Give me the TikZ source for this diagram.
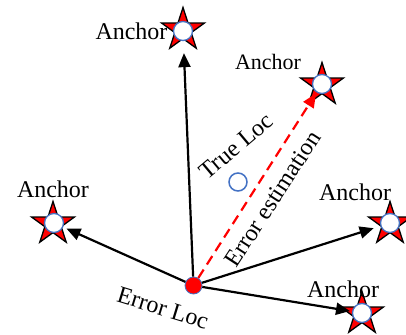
\documentclass[tikz,border=0pt]{standalone}
\usepackage{fontspec}
\setmainfont{Liberation Serif}
\usetikzlibrary{shapes.geometric,arrows.meta}
\definecolor{ringblue}{RGB}{68,114,196}
\tikzset{
  anchorstar/.style={shape=star, star points=5, star point ratio=2.618, minimum size=45pt, inner sep=0pt, fill=red, draw=black, line width=1.3pt},
  anchorring/.style={circle, minimum size=19pt, inner sep=0pt, fill=white, draw=ringblue, line width=1.3pt},
  lbl/.style={font=\fontsize{24}{28}\selectfont, inner sep=0pt},
  lblsmall/.style={font=\fontsize{22}{26}\selectfont, inner sep=0pt},
  arr/.style={line width=2.2pt, draw=black, -{Triangle[length=14pt,width=12pt]}},
  darr/.style={line width=2.2pt, draw=red, dash pattern=on 10pt off 6pt, -{Triangle[length=14pt,width=12pt,fill=red]}}
}
\begin{document}
\begin{tikzpicture}[x=1pt,y=1pt]
\useasboundingbox (0,0) rectangle (406,-334);
% anchors
\node[anchorstar] (s1) at (183,-30) {};
\node[anchorring] (c1) at (183,-31) {};
\node[anchorstar] (s2) at (322,-85) {};
\node[anchorring] (c2) at (322,-84) {};
\node[anchorstar] (s3) at (53,-224) {};
\node[anchorring] (c3) at (54,-223) {};
\node[anchorstar] (s4) at (390,-224) {};
\node[anchorring] (c4) at (390,-223) {};
\node[anchorstar] (s5) at (362,-314) {};
\node[anchorring] (c5) at (362,-313) {};
% error and true locations
\node[circle, minimum size=17pt, inner sep=0pt, fill=red, draw=ringblue, line width=0.8pt] (err) at (193.5,-285.5) {};
\node[circle, minimum size=18pt, inner sep=0pt, fill=white, draw=ringblue, line width=1.5pt] (tru) at (238,-182) {};
% connectors
\draw[arr, shorten >=12pt] (err) -- (c1);
\draw[arr, shorten >=3.5pt] (err) -- (c3);
\draw[arr, shorten >=7pt] (err) -- (c4);
\draw[arr, shorten >=2pt] (err) -- (c5);
\draw[darr, shorten >=1pt] (err) -- (c2);
% labels
\node[lbl, anchor=base] (t1) at (131.5,-39.3) {Anchor};
\node[lblsmall, anchor=base] (t2) at (268,-70) {Anchor};
\node[lbl, anchor=base] (t3) at (53,-197) {Anchor};
\node[lbl, anchor=base] (t4) at (355,-200) {Anchor};
\node[lbl, anchor=base] (t5) at (343,-297) {Anchor};
\node[lbl, rotate=40] (tl) at (236,-146) {True Loc};
\node[lbl, rotate=57] (ee) at (272.5,-199) {Error estimation};
\node[lbl, rotate=-17] (el) at (163,-308) {Error Loc};
\end{tikzpicture}
\end{document}
